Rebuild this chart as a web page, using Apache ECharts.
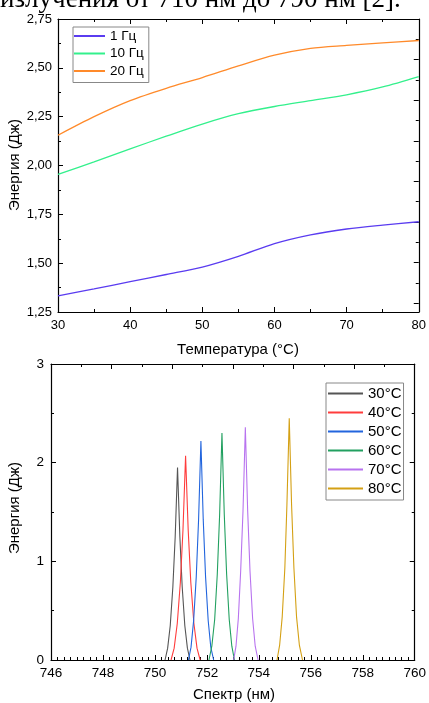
<!DOCTYPE html>
<html><head><meta charset="utf-8">
<script src="https://cdn.jsdelivr.net/npm/echarts@6/dist/echarts.min.js"></script>
<style>html,body{margin:0;padding:0;background:#fff}#c{width:429px;height:703px}</style>
</head><body><div id="c"></div><script>
// ---- Top chart data: energy vs temperature ----
const temps = [30, 35, 40, 45, 50, 55, 60, 65, 70, 75, 80];
const energy1Hz  = [1.333, 1.368, 1.405, 1.442, 1.480, 1.535, 1.600, 1.645, 1.675, 1.695, 1.712];
const energy10Hz = [1.955, 2.018, 2.085, 2.150, 2.212, 2.265, 2.302, 2.332, 2.362, 2.402, 2.455];
const energy20Hz = [2.155, 2.250, 2.332, 2.395, 2.450, 2.510, 2.565, 2.600, 2.615, 2.628, 2.640];
const topNames = ['1 Гц', '10 Гц', '20 Гц'];
const topXTicks = [30, 40, 50, 60, 70, 80];
const topYTicks = ['1,25', '1,50', '1,75', '2,00', '2,25', '2,50', '2,75'];

// ---- Bottom chart data: spectra ----
const nm30 = [750.39, 750.49, 750.59, 750.69, 750.78, 750.87, 750.96, 751.05, 751.15, 751.25, 751.35];
const en30 = [0, 0.12, 0.35, 0.74, 1.25, 1.95, 1.25, 0.74, 0.35, 0.12, 0];
const nm40 = [750.62, 750.74, 750.86, 750.98, 751.08, 751.18, 751.28, 751.38, 751.50, 751.62, 751.74];
const en40 = [0, 0.12, 0.37, 0.79, 1.32, 2.07, 1.32, 0.79, 0.37, 0.12, 0];
const nm50 = [751.29, 751.39, 751.49, 751.59, 751.68, 751.77, 751.86, 751.95, 752.05, 752.15, 752.26];
const en50 = [0, 0.13, 0.40, 0.84, 1.42, 2.22, 1.42, 0.84, 0.40, 0.13, 0];
const nm60 = [752.08, 752.19, 752.30, 752.40, 752.49, 752.58, 752.67, 752.76, 752.86, 752.96, 753.06];
const en60 = [0, 0.14, 0.41, 0.87, 1.47, 2.30, 1.47, 0.87, 0.41, 0.14, 0];
const nm70 = [753.03, 753.12, 753.21, 753.30, 753.39, 753.48, 753.57, 753.66, 753.76, 753.86, 753.97];
const en70 = [0, 0.14, 0.42, 0.90, 1.51, 2.36, 1.51, 0.90, 0.42, 0.14, 0];
const nm80 = [754.70, 754.80, 754.90, 755.00, 755.08, 755.17, 755.26, 755.35, 755.45, 755.56, 755.68];
const en80 = [0, 0.15, 0.44, 0.93, 1.57, 2.45, 1.57, 0.93, 0.44, 0.15, 0];
const bottomNames = ['30°C', '40°C', '50°C', '60°C', '70°C', '80°C'];
const bottomXTicks = [746, 748, 750, 752, 754, 756, 758, 760];
const bottomYTicks = [0, 1, 2, 3];

const FONT = 'Liberation Sans, Arial, sans-serif';
const zip = (xs, ys) => xs.map((x, i) => [x, ys[i]]);

const axisLine = { show: true, onZero: false, lineStyle: { color: '#000', width: 1.2 } };
function frameAxis(extra) {
  return Object.assign({
    type: 'value',
    axisLine: axisLine,
    axisTick: { show: true, inside: true, length: 5, lineStyle: { color: '#000', width: 1 } },
    minorTick: { show: true, splitNumber: 2, length: 3, lineStyle: { color: '#000', width: 1 } },
    splitLine: { show: false },
    minorSplitLine: { show: false },
    axisLabel: { show: false }
  }, extra);
}

const chart = echarts.init(document.getElementById('c'), null, { renderer: 'canvas' });

const topColors = ['#5a3cf0', '#33f08c', '#ff8a2a'];
const bottomColors = ['#555555', '#ff3c3c', '#2265dd', '#22a060', '#b873ef', '#d4a014'];
const bottomNm = [nm30, nm40, nm50, nm60, nm70, nm80];
const bottomEn = [en30, en40, en50, en60, en70, en80];
const topEn = [energy1Hz, energy10Hz, energy20Hz];

const series = [];
topNames.forEach((n, i) => series.push({
  name: n, type: 'line', xAxisIndex: 0, yAxisIndex: 0,
  data: zip(temps, topEn[i]), smooth: 0.3, showSymbol: false, symbol: 'none',
  lineStyle: { color: topColors[i], width: 1.3 }, itemStyle: { color: topColors[i] }
}));
bottomNames.forEach((n, i) => series.push({
  name: n, type: 'line', xAxisIndex: 2, yAxisIndex: 2,
  data: zip(bottomNm[i], bottomEn[i]), smooth: false, showSymbol: false, symbol: 'none',
  lineStyle: { color: bottomColors[i], width: 1.1 }, itemStyle: { color: bottomColors[i] }
}));

chart.setOption({
  animation: false,
  backgroundColor: '#fff',
  grid: [
    { left: 58, top: 19, width: 364, height: 293, containLabel: false },
    { left: 51, top: 364, width: 366, height: 296, containLabel: false }
  ],
  xAxis: [
    frameAxis({ gridIndex: 0, position: 'bottom', min: 30, max: 80, interval: 10,
      axisLabel: { show: true, color: '#000', fontSize: 13, fontFamily: FONT, margin: 7,
        formatter: v => topXTicks.includes(v) ? String(v) : '' } }),
    frameAxis({ gridIndex: 0, position: 'top', min: 30, max: 80, interval: 10 }),
    frameAxis({ gridIndex: 1, position: 'bottom', min: 746, max: 760, interval: 2,
      minorTick: { show: true, splitNumber: 8, length: 3, lineStyle: { color: '#000', width: 1 } },
      axisLabel: { show: true, color: '#000', fontSize: 13.5, fontFamily: FONT, margin: 6,
        formatter: v => bottomXTicks.includes(v) ? String(v) : '' } }),
    frameAxis({ gridIndex: 1, position: 'top', min: 0, max: 6, interval: 1 })
  ],
  yAxis: [
    frameAxis({ gridIndex: 0, position: 'left', min: 1.25, max: 2.75, interval: 0.25,
      axisLabel: { show: true, color: '#000', fontSize: 13, fontFamily: FONT, margin: 6,
        formatter: v => topYTicks[Math.round((v - 1.25) / 0.25)] } }),
    frameAxis({ gridIndex: 0, position: 'right', min: 0, max: 14.43, interval: 2, inverse: true }),
    frameAxis({ gridIndex: 1, position: 'left', min: 0, max: 3, interval: 1,
      axisLabel: { show: true, color: '#000', fontSize: 13.5, fontFamily: FONT, margin: 7,
        formatter: v => bottomYTicks.includes(v) ? String(v) : '' } }),
    frameAxis({ gridIndex: 1, position: 'right', min: 0, max: 3, interval: 1 })
  ],
  legend: [
    { data: topNames, orient: 'vertical', left: 73, top: 27, itemWidth: 31, itemHeight: 2, icon: 'rect',
      itemGap: 0.5, padding: [0.5, 5, 3, 1], borderColor: '#888', borderWidth: 1, backgroundColor: '#fff',
      textStyle: { fontSize: 13.5, fontFamily: FONT, color: '#000', lineHeight: 17 }, selectedMode: false },
    { data: bottomNames, orient: 'vertical', left: 326, top: 383, itemWidth: 35, itemHeight: 2, icon: 'rect',
      itemGap: 0, padding: [1, 2, 2, 2], borderColor: '#888', borderWidth: 1, backgroundColor: '#fff',
      textStyle: { fontSize: 15, fontFamily: FONT, color: '#000', lineHeight: 19 }, selectedMode: false }
  ],
  graphic: [
    { type: 'text', x: 0, y: 13, style: { text: 'излучения от 710 нм до 790 нм [2].', fontSize: 27,
        fontFamily: 'Liberation Serif, Times New Roman, serif', fill: '#000', textAlign: 'left', textVerticalAlign: 'bottom' } },
    { type: 'text', x: 238, y: 350, style: { text: 'Температура (°C)', fontSize: 15, fontFamily: FONT,
        fill: '#000', textAlign: 'center', textVerticalAlign: 'middle' } },
    { type: 'text', x: 15, y: 165, rotation: Math.PI / 2, style: { text: 'Энергия (Дж)', fontSize: 15, fontFamily: FONT,
        fill: '#000', textAlign: 'center', textVerticalAlign: 'middle' } },
    { type: 'text', x: 15, y: 508, rotation: Math.PI / 2, style: { text: 'Энергия (Дж)', fontSize: 15, fontFamily: FONT,
        fill: '#000', textAlign: 'center', textVerticalAlign: 'middle' } },
    { type: 'text', x: 234, y: 695, style: { text: 'Спектр (нм)', fontSize: 15, fontFamily: FONT,
        fill: '#000', textAlign: 'center', textVerticalAlign: 'middle' } }
  ],
  series: series
});
</script></body></html>
